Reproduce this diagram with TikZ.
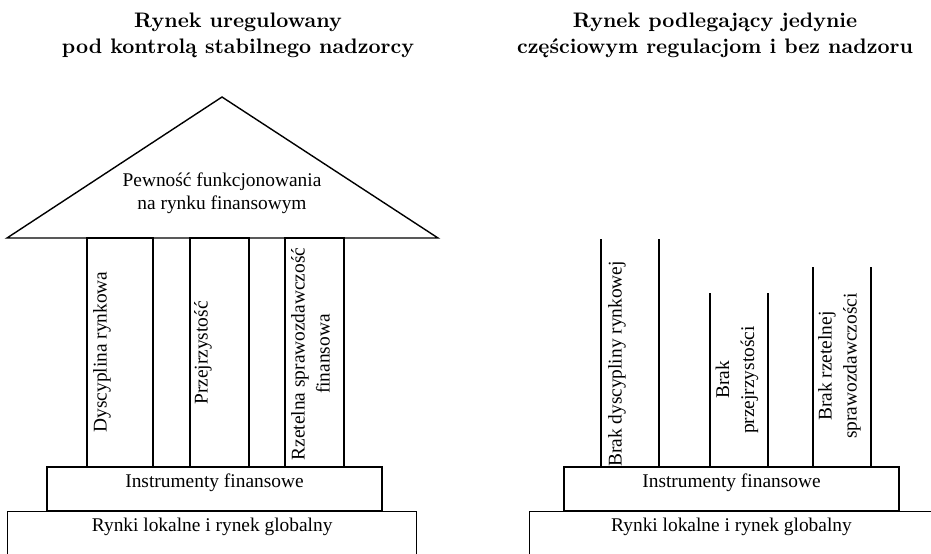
\documentclass[tikz,border=0pt]{standalone}
\usepackage{fontspec}
\newfontfamily\bodyfont{Liberation Serif}
\usetikzlibrary{positioning}

\begin{document}
\begin{tikzpicture}[
  x=0.5pt, y=-0.5pt,
  box/.style={draw, line width=0.7pt, inner sep=0pt},
  post/.style={line width=1pt},
  txt/.style={font=\bodyfont\fontsize{9.7}{11.5}\selectfont, inner sep=0pt, align=center},
  vtxt/.style={font=\bodyfont\fontsize{9.7}{12.5}\selectfont, inner sep=0pt, align=center, rotate=90},
  heading/.style={font=\bfseries\fontsize{10.5}{13}\selectfont, inner sep=0pt, align=center}
]
\path[use as bounding box] (0,0) rectangle (931,553);
\clip (0,0) rectangle (931,553);

% Titles
\node[heading] (titleL) at (238, 35) {Rynek uregulowany\\pod kontrolą stabilnego nadzorcy};
\node[heading] (titleR) at (715, 35) {Rynek podlegający jedynie\\częściowym regulacjom i bez nadzoru};

% Left: roof
\draw[line width=0.7pt] (7,238) -- (222,97) -- (438,238) -- cycle;
\node[txt] (roof) at (222, 193) {Pewność funkcjonowania\\na rynku finansowym};

% Left: pillars
\node[box, minimum width=33pt,   minimum height=114.5pt] (p1) at (120, 352.5) {};
\node[box, minimum width=29.5pt, minimum height=114.5pt] (p2) at (219.5, 352.5) {};
\node[box, minimum width=29.5pt, minimum height=114.5pt] (p3) at (314.5, 352.5) {};
\node[vtxt] (p1t) at (102, 352) {Dyscyplina rynkowa};
\node[vtxt] (p2t) at (203, 353) {Przejrzystość};
\node[vtxt] (p3t) at (310.5, 354) {Rzetelna sprawozdawczość\\finansowa};

% Left: base
\node[box, minimum width=167.5pt, minimum height=22pt] (insL) at (214.5, 489) {};
\node[txt, below=3.5pt of insL.north] (insLt) {Instrumenty finansowe};
\node[box, minimum width=204.5pt, minimum height=40pt, anchor=north west] (mktL) at (7, 511) {};
\node[txt, below=3.5pt of mktL.north] (mktLt) {Rynki lokalne i rynek globalny};

% Right: base
\node[box, minimum width=167.5pt, minimum height=22pt] (insR) at (731.5, 489) {};
\node[txt, below=3.5pt of insR.north] (insRt) {Instrumenty finansowe};
\node[box, minimum width=204.5pt, minimum height=40pt, anchor=north west] (mktR) at (529, 511) {};
\node[txt, anchor=north] (mktRt) at (731.5, 518) {Rynki lokalne i rynek globalny};

% Right: broken pillars
\coordinate (a1) at (601, 239);
\coordinate (a2) at (659, 239);
\coordinate (b1) at (710, 293);
\coordinate (b2) at (768, 293);
\coordinate (c1) at (813, 267);
\coordinate (c2) at (871, 267);
\foreach \s in {a1,a2,b1,b2,c1,c2}
  \draw[post] (\s) -- (\s |- insR.north);
\node[vtxt] (r1t) at (617, 364) {Brak dyscypliny rynkowej};
\node[vtxt] (r2t) at (737, 380) {Brak\\przejrzystości};
\node[vtxt] (r3t) at (839.5, 366) {Brak rzetelnej\\sprawozdawczości};

\end{tikzpicture}
\end{document}
